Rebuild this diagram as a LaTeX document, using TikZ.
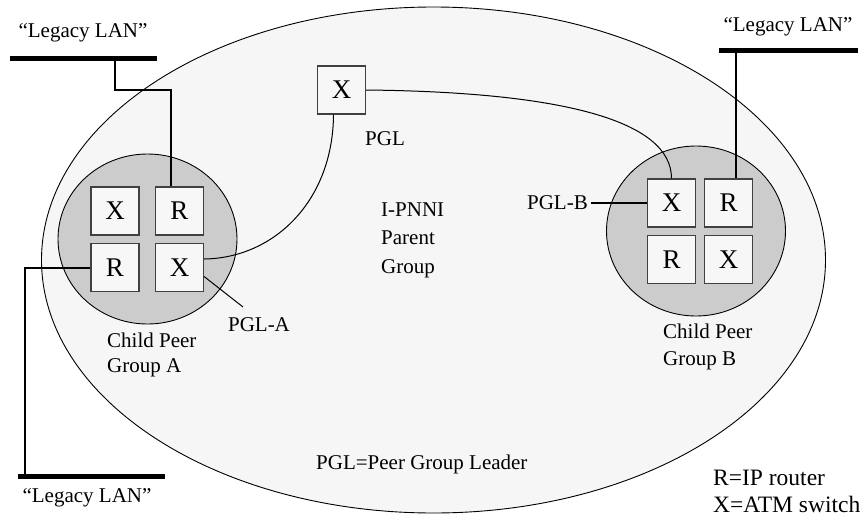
\documentclass[tikz,border=0pt]{standalone}
\usepackage{fontspec}
\setmainfont{Liberation Serif}
\usetikzlibrary{calc,shapes.geometric}
\begin{document}
\begin{tikzpicture}[x=1pt,y=-1pt,
  dev/.style={draw=black!75, line width=1.2pt, fill=gray!6, minimum size=48pt, inner sep=0pt, font=\fontsize{27}{27}\selectfont},
  lbl/.style={font=\fontsize{21}{26}\selectfont, inner sep=0pt, align=left},
  conn/.style={line width=1pt},
  lan/.style={line width=2pt},
  lanbar/.style={line width=5pt},
  grp/.style={draw, ellipse, line width=0.9pt, inner sep=0pt}]
\useasboundingbox (0,0) rectangle (868,517);

% parent group
\node[grp, fill=gray!7, minimum width=784pt, minimum height=506pt] (parent) at (433.5,260) {};
% child peer groups
\node[grp, fill=gray!40, minimum width=179pt, minimum height=170pt] (cpgA) at (147.5,239) {};
\node[grp, fill=gray!40, minimum width=179pt, minimum height=170pt] (cpgB) at (696,231) {};

% devices
\node[dev] (pgl) at (341.5,90) {X};
\node[dev] (xA1) at (115,211) {X};
\node[dev] (rA1) at (179.5,211) {R};
\node[dev] (rA2) at (115,267.5) {R};
\node[dev] (xA2) at (179.5,267.5) {X};
\node[dev] (xB1) at (671.5,203) {X};
\node[dev] (rB1) at (728.5,203) {R};
\node[dev] (rB2) at (671.5,259.5) {R};
\node[dev] (xB2) at (728.5,259.5) {X};

% PGL links
\draw[conn] ($(pgl.south)+(-8,0)$) .. controls (333,200) and (275,258) .. ($(xA2.east)+(0,-8.5)$);
\draw[conn] (pgl.east) .. controls (560,92) and (671.5,120) .. (xB1.north);

% Legacy LANs
\coordinate (tlA) at (10,58);
\coordinate (tlB) at (157,58);
\coordinate (tlDrop) at (115,58);
\coordinate (tlKnee) at (171,90);
\draw[lanbar] (tlA) -- (tlB);
\node[lbl] (lanTL) at (83,33) {``Legacy LAN''};
\draw[lan] (tlDrop) |- (tlKnee) -- (tlKnee |- rA1.north);

\coordinate (trA) at (719,50);
\coordinate (trB) at (858,50);
\coordinate (trDrop) at (736,50);
\draw[lanbar] (trA) -- (trB);
\node[lbl] (lanTR) at (788,27) {``Legacy LAN''};
\draw[lan] (trDrop) -- (trDrop |- rB1.north);

\coordinate (blA) at (18,476);
\coordinate (blB) at (165,476);
\coordinate (blDrop) at (25,476);
\draw[lanbar] (blA) -- (blB);
\node[lbl] (lanBL) at (87,498) {``Legacy LAN''};
\draw[lan] (rA2.west) -| (blDrop);

% labels
\node[lbl, anchor=west] (pglLbl) at (365,139) {PGL};
\node[lbl, anchor=west, font=\fontsize{21}{28.5}\selectfont] (ipnni) at (381,240) {I-PNNI\\Parent\\Group};
\node[lbl, anchor=west, font=\fontsize{21}{25}\selectfont] (cpgAlbl) at (107,354.5) {Child Peer\\Group A};
\node[lbl, anchor=west, font=\fontsize{21}{27}\selectfont] (cpgBlbl) at (663,346.5) {Child Peer\\Group B};
\node[lbl] (pglA) at (259,325) {PGL-A};
\coordinate (pglAend) at (243,307);
\draw[conn] ($(xA2.east)+(0,9)$) -- (pglAend);
\node[lbl, anchor=east] (pglB) at (588,203) {PGL-B};
\draw[lan] ($(pglB.east)+(3,0)$) -- (xB1.west);
\node[lbl, anchor=west] (legendPGL) at (316,464) {PGL=Peer Group Leader};
\node[lbl, anchor=west, font=\fontsize{23.5}{27}\selectfont] (legend) at (713,491.5) {R=IP router\\X=ATM switch};
\end{tikzpicture}
\end{document}
